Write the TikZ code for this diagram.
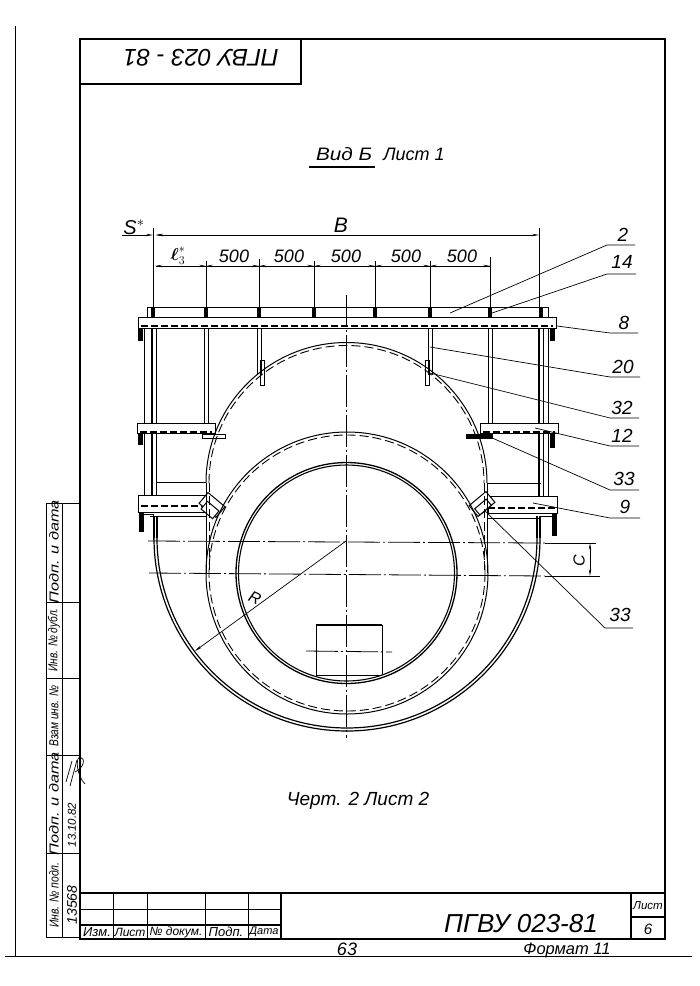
\documentclass[tikz,border=0pt]{standalone}
\usepackage{amsmath,amsthm,amssymb}
\usepackage{fontspec}
\setmainfont{Liberation Sans}
\usepackage{tikz}
\usetikzlibrary{arrows.meta}
\tikzset{
  ln/.style={line width=1pt},
  fat/.style={line width=1.5pt},
  thin1/.style={line width=.7pt},
  dsh/.style={line width=.9pt,dash pattern=on 9pt off 4pt},
  pdsh/.style={line width=1.3pt,dash pattern=on 7pt off 3pt},
  axs/.style={line width=.8pt,dash pattern=on 32pt off 3pt on 2pt off 3pt},
  dim/.style={line width=.7pt,-{Stealth[length=7pt,width=2.4pt]}},
  lab/.style={font=\fontsize{#1}{#1}\selectfont\itshape,inner sep=0pt},
}
\begin{document}
\begin{tikzpicture}[x=1pt,y=-1pt]
\useasboundingbox (0,0) rectangle (700,986);
% frame
\draw[ln] (15,26)--(15,956);
\draw[ln] (5,956)--(692,956);
\draw[fat] (80,39) rectangle (665,939);
\draw[fat] (80,84)--(301,84)--(301,39);
\draw node[lab=24,rotate=180] (hdr) at (201,58) {ПГВУ 023 - 81};
% side stamp
\draw[ln] (46,503) rectangle (80,937);
\draw[ln] (62,503)--(62,937);
\foreach \yy in {602,678,755,853} \draw[ln] (46,\yy)--(80,\yy);
\draw node[lab=13,rotate=90] (st1) at (54,552) {\scalebox{1.25}[1]{Подп. и дата}};
\draw node[lab=13,rotate=90] (st2) at (54,640) {\scalebox{.78}[1]{Инв. № дубл.}};
\draw node[lab=13,rotate=90] (st3) at (54,716) {\scalebox{.78}[1]{Взам инв. №}};
\draw node[lab=13,rotate=90] (st4) at (54,804) {\scalebox{1.25}[1]{Подп. и дата}};
\draw node[lab=13,rotate=90] (st5) at (54,895) {\scalebox{.8}[1]{Инв. № подл.}};
\draw node[lab=11.5,rotate=90] (st6) at (72,825) {13.10.82};
\draw node[lab=14,rotate=90] (st7) at (72,905) {13568};
\draw[thin1] (66,782)--(72,761) (70,786)--(77,760);
\draw[thin1] (75,772) .. controls (84,768) and (86,758) .. (80,757) .. controls (75,758) and (77,776) .. (85,784);
% title block
\draw[fat] (80,893)--(665,893);
\draw[ln] (80,909)--(281,909);
\draw[fat] (80,925)--(281,925);
\foreach \xx in {113,147,205,248} \draw[ln] (\xx,893)--(\xx,939);
\draw[fat] (281,893)--(281,939);
\draw[fat] (631,893)--(631,939);
\draw[fat] (631,917)--(665,917);
\draw node[lab=13] (tb1) at (97,932) {Изм.};
\draw node[lab=12] (tb2) at (130,932) {Лист};
\draw node[lab=12] (tb3) at (176,932) {№ докум.};
\draw node[lab=13] (tb4) at (226,932) {Подп.};
\draw node[lab=11] (tb5) at (264,932) {Дата};
\draw node[lab=26] (tb6) at (521,924) {ПГВУ 023-81};
\draw node[lab=11.5] (tb7) at (648,906) {Лист};
\draw node[lab=15] (tb8) at (648,929) {6};
\draw node[lab=18] (tb9) at (347,949) {63};
\draw node[lab=16.5] (tb10) at (567,950) {Формат 11};
% titles
\draw node[lab=18] (vid) at (344,154) {\scalebox{1.15}[1]{Вид Б}};
\draw node[lab=18] (sht) at (414,154) {Лист 1};
\draw[fat] (309,167)--(375,167);
\draw node[lab=19] (chert) at (358,801) {Черт. 2  Лист 2};
% dimensions
\draw[ln] (153,228)--(153,307);
\draw[ln] (539,228)--(539,307);
\draw[dim] (122,235)--(153,235);
\draw[dim] (170,235)--(156,235);
\draw[dim] (335,235)--(156,235);
\draw[dim] (335,235)--(539,235);
\draw node[lab=20] (lblS) at (134,227) {S$^{*}$};
\draw node[lab=21] (lblB) at (341,225) {B};
\draw node[lab=18] (lblL) at (178,256) {$\boldsymbol{\ell}_3^{*}$};
\draw[thin1] (156,266)--(490,266);
\foreach \xa/\xb in {155/206,206/259,259/314,314/375,375/430,430/490} {
  \draw[dim] ({0.5*(\xa+\xb)},266)--(\xa,266);
  \draw[dim] ({0.5*(\xa+\xb)},266)--(\xb,266);
}
\foreach \xx/\yy in {206/261,259/259,314/261,375/261,430/261,490/257} \draw[thin1] (\xx,\yy)--(\xx,307);
\foreach \xx in {234,289,346,406,462} \draw node[lab=18] (d\xx) at (\xx,256) {500};
% top plates
\draw[ln] (147,307) rectangle (548,317);
\draw[ln] (138,317) rectangle (556,328);
\draw[pdsh] (141,326)--(553,326);
\foreach \xx in {153,206,259,314,375,430,490,541} \fill (\xx-2,307) rectangle (\xx+2,317);
% posts
\foreach \xx in {206,490} {
  \draw[ln] (\xx-2,328)--(\xx-2,423);
  \draw[ln] (\xx+2,328)--(\xx+2,423);
}
\foreach \xx in {259,430} {
  \draw[ln] (\xx-2,328)--(\xx-2,375);
  \draw[ln] (\xx+2,328)--(\xx+2,375);
}
\draw[ln] (260,360) rectangle (264,385);
\draw[ln] (425,360) rectangle (429,385);
\foreach \xa/\ya/\yb in {152/328/423,152/433/495,539/328/423,539/433/496} {
  \draw[fat] (\xa,\ya)--(\xa,\yb);
  \draw[ln] (\xa+4,\ya)--(\xa+4,\yb);
}
\draw[ln] (144,328)--(144,423) (144,433)--(144,495);
\draw[ln] (548,328)--(548,423) (548,433)--(548,496);
% mid plates
\draw[ln] (137,423) rectangle (215,433);
\draw[ln] (480,423) rectangle (558,433);
\draw[pdsh] (140,432)--(212,432);
\draw[pdsh] (483,432)--(555,432);
\draw[ln] (202,434) rectangle (225,438);
\draw[ln,fill=black] (466,434) rectangle (492,438);
% lower plates
\draw[ln] (138,495) rectangle (205,512);
\draw[ln] (488,496) rectangle (557,513);
\draw[pdsh] (141,506)--(205,506);
\draw[pdsh] (488,508)--(555,508);
\draw[ln] (156,482)--(206,482);
\draw[ln] (488,483)--(541,483);
\draw[ln] (150,516)--(206,516);
\draw[ln] (488,518)--(541,518);
\draw node[draw,ln,fill=white,rotate=-40,minimum width=22pt,minimum height=14pt,inner sep=0pt] (wedgeL) at (212,505) {};
\draw node[draw,ln,fill=white,rotate=-40,minimum width=15pt,minimum height=10pt,inner sep=0pt] (wedgeLin) at (210,510) {};
\draw node[draw,ln,fill=white,rotate=40,minimum width=22pt,minimum height=14pt,inner sep=0pt] (wedgeR) at (482,504) {};
\draw node[draw,ln,fill=white,rotate=40,minimum width=15pt,minimum height=8pt,inner sep=0pt] (wedgeRin) at (483,507) {};
% bolts
\foreach \xx/\yy/\hh in {141/328/13,141/433/12,142/513/19,553/328/13,553/433/15,555/513/23} \fill (\xx-3,\yy) rectangle (\xx+2,\yy+\hh);
\draw[ln] (144,514)--(153,514)--(153,540);
\draw[ln] (552,516)--(541,516);
% body
\draw[ln] (206,483) arc (180:360:140.5);
\draw[dsh] (209,483) arc (180:360:137.5);
\draw[ln] (206,483)--(206,573);
\draw[ln] (487,483)--(487,573);
\draw[dsh] (209,483)--(209,573);
\draw[dsh] (484,483)--(484,573);
\draw[ln] (347,573) circle (141);
\draw[dsh] (347,573) circle (138);
\draw[line width=1.3pt] (346.5,573) circle (110.5);
\draw[line width=1.1pt] (346.5,573) circle (108);
\draw[line width=1.2pt] (154,538) arc (180:0:193);
\draw[line width=1.2pt] (157,538) arc (180:0:190);
\draw[line width=1.2pt] (154,538)--(154,516);
\draw[line width=1.2pt] (157,538)--(157,516);
\draw[line width=1.2pt] (540,538)--(540,516);
\draw[line width=1.2pt] (537,538)--(537,516);
% hatch
\draw[ln] (316,675)--(316,625);
\draw[ln] (382,675)--(382,625);
\draw[line width=2pt] (316,625)--(382,625);
\draw[ln] (316,675)--(382,675);
% axes
\draw[axs] (346,295)--(346,738);
\draw[axs] (148,541)--(545,543);
\draw[axs] (149,573)--(545,576);
\draw[ln] (545,543)--(596,543);
\draw[ln] (545,576)--(600,576);
\draw[axs] (306,651)--(392,652);
\coordinate (cen) at (346,541);
\coordinate (rEnd) at (195,651);
\draw[dim] (cen)--(rEnd);
\draw node[lab=16,rotate=-25] (lblR) at (255,598) {R};
\draw[dim] (590,560)--(590,543);
\draw[dim] (590,560)--(590,576);
\draw node[lab=16,rotate=90] (lblC) at (579,561) {C};
% leaders
\foreach \id/\txt/\ax/\ay/\bx/\by/\ex/\tx/\ty in {
  a/2/450/313/607/245/635/623/235,
  b/14/492/313/607/274/636/622/262,
  c/8/557/326/610/333/638/624/323,
  d/20/430/347/610/377/640/623/367,
  e/32/430/373/610/418/639/622/408,
  f/12/535/428/610/446/639/622/436,
  g/33/490/437/610/490/639/624/479,
  h/9/533/503/610/518/640/625/507,
  i/33/484/510/605/628/633/620/615} {
  \coordinate (\id a) at (\ax,\ay);
  \coordinate (\id b) at (\bx,\by);
  \coordinate (\id c) at (\ex,\by);
  \draw[thin1] (\id a)--(\id b)--(\id c);
  \draw node[lab=19] (lbl\id) at (\tx,\ty) {\txt};
}
\end{tikzpicture}
\end{document}
